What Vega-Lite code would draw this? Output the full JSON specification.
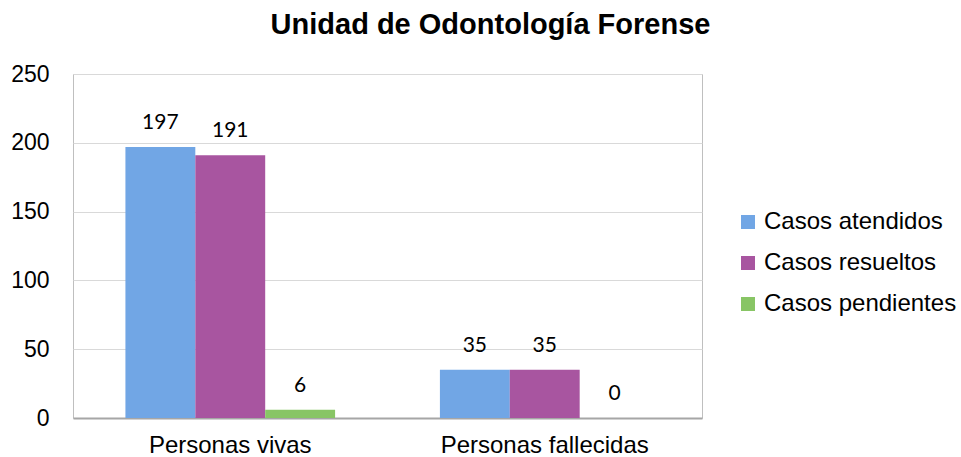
{
  "$schema": "https://vega.github.io/schema/vega-lite/v6.json",
  "width": 629,
  "height": 344,
  "autosize": {"type": "none"},
  "padding": {"left": 73, "top": 74, "right": 259, "bottom": 39},
  "background": "white",
  "title": {
    "text": "Unidad de Odontología Forense",
    "font": "Liberation Sans",
    "fontSize": 29,
    "fontWeight": "bold",
    "color": "#000000",
    "anchor": "middle",
    "frame": "group",
    "dx": 103,
    "offset": 23
  },
  "data": {
    "values": [
      {"grupo": "Personas vivas", "serie": "Casos atendidos", "valor": 197},
      {"grupo": "Personas vivas", "serie": "Casos resueltos", "valor": 191},
      {"grupo": "Personas vivas", "serie": "Casos pendientes", "valor": 6},
      {"grupo": "Personas fallecidas", "serie": "Casos atendidos", "valor": 35},
      {"grupo": "Personas fallecidas", "serie": "Casos resueltos", "valor": 35},
      {"grupo": "Personas fallecidas", "serie": "Casos pendientes", "valor": 0}
    ]
  },
  "encoding": {
    "x": {
      "field": "grupo",
      "type": "nominal",
      "sort": ["Personas vivas", "Personas fallecidas"],
      "scale": {"paddingInner": 0.3333, "paddingOuter": 0.1667},
      "axis": {
        "title": null,
        "labelAngle": 0,
        "labelFont": "Liberation Sans",
        "labelFontSize": 24,
        "labelColor": "#000000",
        "labelPadding": 15,
        "labelLimit": 400,
        "ticks": false,
        "domainColor": "#A6A6A6",
        "domainWidth": 2,
        "grid": false
      }
    },
    "xOffset": {
      "field": "serie",
      "type": "nominal",
      "sort": ["Casos atendidos", "Casos resueltos", "Casos pendientes"],
      "scale": {"paddingInner": 0, "paddingOuter": 0}
    },
    "y": {
      "field": "valor",
      "type": "quantitative",
      "scale": {"domain": [0, 250], "nice": false},
      "axis": {
        "title": null,
        "values": [0, 50, 100, 150, 200, 250],
        "labelFont": "Liberation Sans",
        "labelFontSize": 23,
        "labelColor": "#000000",
        "labelPadding": 24,
        "ticks": false,
        "domain": false,
        "gridColor": "#D9D9D9",
        "gridWidth": 1
      }
    }
  },
  "layer": [
    {
      "mark": {"type": "bar"},
      "encoding": {
        "color": {
          "field": "serie",
          "type": "nominal",
          "sort": ["Casos atendidos", "Casos resueltos", "Casos pendientes"],
          "scale": {
            "domain": ["Casos atendidos", "Casos resueltos", "Casos pendientes"],
            "range": ["#71A6E5", "#A855A0", "#88C565"]
          },
          "legend": {
            "title": null,
            "orient": "none",
            "legendX": 663,
            "legendY": 136,
            "symbolType": "square",
            "symbolSize": 196,
            "symbolStrokeWidth": 0,
            "symbolOpacity": 1,
            "labelFont": "Liberation Sans",
            "labelFontSize": 24,
            "labelColor": "#000000",
            "labelOffset": 4,
            "rowPadding": 17,
            "labelLimit": 300
          }
        }
      }
    },
    {
      "mark": {
        "type": "text",
        "dy": -18,
        "baseline": "alphabetic",
        "font": "Lato",
        "fontSize": 21,
        "color": "#000000"
      },
      "encoding": {
        "text": {"field": "valor", "type": "quantitative"}
      }
    }
  ],
  "config": {
    "view": {"stroke": "#BFBFBF", "strokeWidth": 1}
  }
}
